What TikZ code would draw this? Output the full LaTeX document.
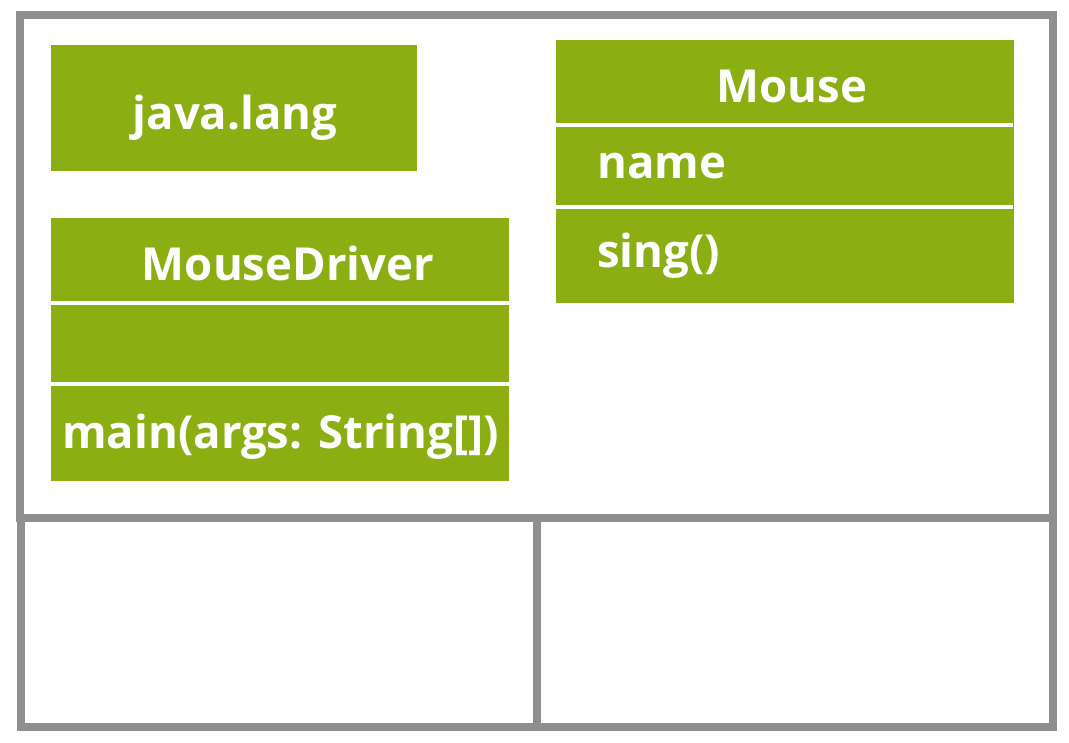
\documentclass[tikz,border=0pt]{standalone}
\usepackage{fontspec}
\setmainfont{Open Sans}
\definecolor{umlgreen}{RGB}{139,175,18}
\definecolor{framegray}{RGB}{142,143,142}
\tikzset{
  frame/.style={draw=framegray, line width=8pt},
  greenbox/.style={fill=umlgreen, draw=none, inner sep=0pt, anchor=north west},
  sep/.style={draw=white, line width=4pt},
  lbl/.style={text=white, font=\fontsize{45.5}{48}\selectfont\bfseries, inner sep=0pt}
}
\begin{document}
\begin{tikzpicture}[x=1pt,y=-1pt]
\useasboundingbox (0,0) rectangle (1069,743);
\fill[white] (0,0) rectangle (1069,743);
% frames
\draw[frame] (20,15) rectangle (1053,518);
\draw[frame] (21,518) rectangle (537,727);
\draw[frame] (537,518) rectangle (1053,727);
% java.lang
\node[greenbox, minimum width=366pt, minimum height=126pt] (jl) at (51,45) {};
\node[lbl, anchor=base] (jltxt) at (235,130) {java.lang};
% MouseDriver
\node[greenbox, minimum width=458pt, minimum height=263pt] (md) at (51,218) {};
\draw[sep] (51,303) -- (509,303);
\draw[sep] (51,384) -- (509,384);
\node[lbl, anchor=base] (mdtxt) at (288,281) {MouseDriver};
\node[lbl, anchor=base west] (mdmain) at (62,448) {main(args: String[])};
% Mouse
\node[greenbox, minimum width=458pt, minimum height=263pt] (ms) at (556,40) {};
\draw[sep] (556,125) -- (1013,125);
\draw[sep] (556,207) -- (1013,207);
\node[lbl, anchor=base] (mstxt) at (792,103) {Mouse};
\node[lbl, anchor=base west] (msname) at (597,179) {name};
\node[lbl, anchor=base west] (mssing) at (597,268) {sing()};
\end{tikzpicture}
\end{document}
